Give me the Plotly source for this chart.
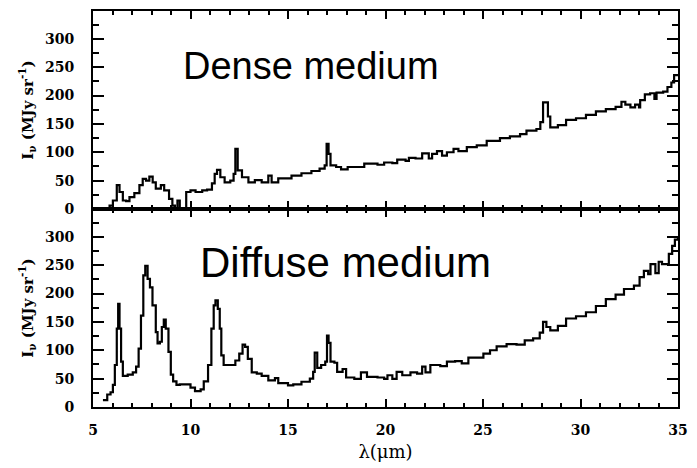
import plotly.graph_objects as go
from plotly.subplots import make_subplots

# ---- data ----
dense_wl = [5.55, 5.85, 6.02, 6.22, 6.36, 6.53, 6.70, 6.87, 7.12, 7.38, 7.55, 7.72, 7.89,
            8.06, 8.22, 8.48, 8.65, 8.90, 9.07, 9.20, 9.33, 9.45, 9.67, 9.78, 10.0, 10.26,
            10.6, 10.85, 11.1, 11.24, 11.36, 11.53, 11.75, 12.04, 12.21, 12.30, 12.42,
            12.64, 12.97, 13.3, 13.65, 13.99, 14.16, 14.5, 15.18, 15.69, 16.2, 16.62,
            16.88, 16.98, 17.08, 17.18, 17.47, 17.72, 18.06, 18.91, 19.59, 19.93, 20.35,
            20.6, 21.03, 21.2, 21.54, 21.88, 22.22, 22.39, 22.64, 22.9, 23.15, 23.49,
            23.74, 24.17, 24.68, 25.19, 25.87, 26.38, 26.9, 27.23, 27.74, 27.94, 28.08,
            28.33, 28.45, 28.84, 29.26, 29.77, 30.28, 30.79, 31.3, 31.8, 32.1, 32.3,
            32.56, 32.8, 33.0, 33.06, 33.3, 33.57, 33.79, 33.9, 34.24, 34.46, 34.66,
            34.8, 35.0]
dense_flux = [0, 6, 15, 42, 30, 15, 14, 21, 28, 42, 53, 50, 57,
              47, 36, 42, 33, 18, 6, 0, 15, 0, 0, 30, 33, 30,
              33, 34, 45, 62, 69, 56, 47, 50, 62, 106, 68,
              56, 47, 51, 47, 59, 47, 54, 59, 63, 67, 71,
              77, 115, 97, 77, 74, 70, 74, 80, 78, 82, 81,
              87, 85, 90, 89, 98, 89, 97, 102, 94, 100, 106,
              102, 109, 112, 120, 125, 128, 132, 138, 141, 153, 188,
              163, 144, 148, 157, 160, 166, 172, 176, 180, 189, 184,
              179, 184, 179, 192, 202, 204, 194, 205, 207, 215, 223,
              236, 236]

diffuse_wl = [5.51, 5.73, 5.9, 6.02, 6.12, 6.22, 6.29, 6.36, 6.44, 6.53, 6.78, 7.04, 7.21,
              7.34, 7.46, 7.58, 7.68, 7.8, 7.92, 8.05, 8.22, 8.31, 8.43, 8.53, 8.63, 8.73,
              8.87, 8.99, 9.11, 9.28, 9.45, 9.75, 10.0, 10.23, 10.52, 10.68, 10.9, 11.07,
              11.19, 11.28, 11.4, 11.5, 11.58, 11.7, 12.04, 12.3, 12.5, 12.67, 12.8, 12.94,
              13.14, 13.4, 13.65, 13.99, 14.33, 14.5, 15.0, 15.27, 15.69, 16.12, 16.29,
              16.37, 16.5, 16.7, 16.91, 17.0, 17.08, 17.18, 17.38, 17.52, 17.8, 17.98,
              18.4, 18.74, 19.05, 19.59, 19.93, 20.1, 20.35, 20.57, 20.86, 21.28, 21.62,
              21.88, 22.05, 22.3, 22.81, 23.15, 23.57, 23.91, 24.25, 24.68, 25.02, 25.36,
              25.7, 26.21, 26.72, 27.14, 27.57, 27.91, 28.08, 28.25, 28.45, 28.84, 29.26,
              29.77, 30.28, 30.79, 31.3, 31.8, 32.23, 32.74, 33.03, 33.25, 33.47, 33.59,
              33.84, 34.01, 34.18, 34.53, 34.7, 34.84, 35.0]
diffuse_flux = [12, 22, 26, 39, 74, 138, 182, 138, 80, 55, 57, 61, 71,
                103, 161, 232, 249, 226, 211, 179, 132, 112, 115, 141, 154, 138,
                97, 57, 45, 39, 40, 40, 34, 28, 31, 45, 74, 138,
                179, 188, 173, 138, 91, 74, 74, 82, 94, 110, 106, 85,
                61, 59, 55, 47, 51, 42, 38, 40, 44.5, 50, 62,
                96, 69, 74, 80, 126, 113, 80, 78, 62, 67, 52,
                49.5, 61, 53, 52, 49.5, 56, 49.5, 62, 56, 61, 59,
                71, 61, 74, 72, 80, 81, 77, 87, 87, 94, 100,
                107, 111, 110, 117.5, 121, 131, 150, 141, 135, 143, 156,
                160, 167, 178, 190, 198, 208, 214, 229, 240, 234, 252,
                236, 256, 252, 270, 284, 295, 300]

x_ticks = [5, 10, 15, 20, 25, 30, 35]
y_ticks = [0, 50, 100, 150, 200, 250, 300]
panel_labels = ["Dense medium", "Diffuse medium"]

# ---- figure ----
fig = make_subplots(rows=2, cols=1, shared_xaxes=True, vertical_spacing=0)
for r, (wl, fl) in enumerate([(dense_wl, dense_flux), (diffuse_wl, diffuse_flux)], start=1):
    fig.add_trace(go.Scatter(x=wl, y=fl, mode="lines",
                             line=dict(color="black", width=2.2, shape="hv"),
                             showlegend=False, hoverinfo="skip"), row=r, col=1)

tickfont = dict(family="DejaVu Serif", size=14, color="black", weight="bold")

xcommon = dict(range=[5, 35], tickmode="array", tickvals=x_ticks,
               showline=True, linecolor="black", linewidth=2, mirror="ticks",
               ticks="inside", ticklen=8, tickwidth=1.5, tickcolor="black",
               minor=dict(ticks="inside", tickmode="linear", tick0=5, dtick=1,
                          ticklen=4, tickwidth=1.5, tickcolor="black"),
               showgrid=False, zeroline=False, tickfont=tickfont)
fig.update_xaxes(**xcommon)
fig.update_xaxes(showticklabels=False, row=1, col=1)
fig.update_xaxes(ticklabelstandoff=9,
                 title=dict(text="λ(μm)", font=dict(family="DejaVu Serif", size=18, color="black"),
                            standoff=9),
                 row=2, col=1)

ytitle = "I<sub>ν</sub> (MJy sr<sup>-1</sup>)"
fig.update_yaxes(range=[0, 349], tickmode="array", tickvals=y_ticks,
                 showline=True, linecolor="black", linewidth=2, mirror="ticks",
                 ticks="inside", ticklen=11, tickwidth=1.5, tickcolor="black",
                 minor=dict(ticks="inside", tickmode="linear", tick0=0, dtick=25,
                            ticklen=6, tickwidth=1.5, tickcolor="black"),
                 showgrid=False, zeroline=False, tickfont=tickfont,
                 ticklabelstandoff=14,
                 title=dict(text=ytitle, font=dict(family="DejaVu Serif", size=15,
                                                   color="black", weight="bold"),
                            standoff=8))

fig.add_annotation(text=panel_labels[0], xref="paper", yref="paper", x=0.151, y=0.862,
                   xanchor="left", yanchor="middle", showarrow=False,
                   font=dict(family="Liberation Sans", size=38, color="black"))
fig.add_annotation(text=panel_labels[1], xref="paper", yref="paper", x=0.18, y=0.365,
                   xanchor="left", yanchor="middle", showarrow=False,
                   font=dict(family="Liberation Sans", size=42, color="black"))

fig.update_layout(width=697, height=468, margin=dict(l=93, r=14, t=9, b=59),
                  plot_bgcolor="white", paper_bgcolor="white", showlegend=False)

fig.write_html("out.html")
